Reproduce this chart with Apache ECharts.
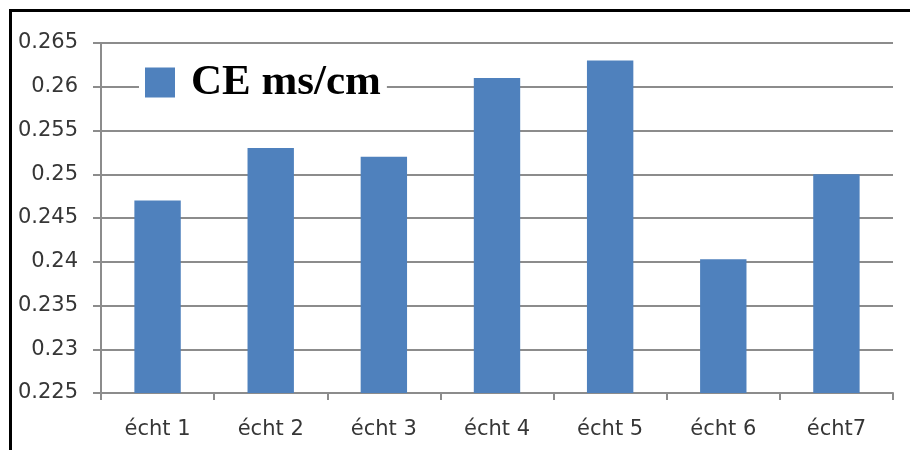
<!DOCTYPE html>
<html>
<head>
<meta charset="utf-8">
<script src="https://cdn.jsdelivr.net/npm/echarts@6/dist/echarts.min.js"></script>
<style>
  html, body { margin: 0; padding: 0; background: #fff; }
  #chart { width: 910px; height: 450px; }
</style>
</head>
<body>
<div id="chart"></div>
<script>
// Sample names along the x axis
const categories = ['écht 1', 'écht 2', 'écht 3', 'écht 4', 'écht 5', 'écht 6', 'écht7'];
// Electrical conductivity per sample (ms/cm)
const ceValues = [0.247, 0.253, 0.252, 0.261, 0.263, 0.2403, 0.250];
const seriesName = 'CE ms/cm';
// Value axis range and step
const yMin = 0.225;
const yMax = 0.265;
const yStep = 0.005;

const gridColor = '#8c8c8c';
const labelFont = '"DejaVu Sans", Verdana, sans-serif';

const chart = echarts.init(document.getElementById('chart'), null, { renderer: 'canvas' });

chart.setOption({
  animation: false,
  backgroundColor: '#ffffff',
  grid: { left: 101, right: 17, top: 43, bottom: 57, containLabel: false },
  legend: {
    data: [seriesName],
    left: 139,
    top: 58,
    padding: [3, 6, 3, 6],
    backgroundColor: '#ffffff',
    icon: 'rect',
    itemWidth: 30,
    itemHeight: 30,
    textStyle: {
      fontFamily: '"Liberation Serif", "Times New Roman", serif',
      fontWeight: 'bold',
      fontSize: 43,
      color: '#000000',
      padding: [0, 0, 0, 11]
    }
  },
  xAxis: {
    type: 'category',
    data: categories,
    axisLine: { lineStyle: { color: gridColor, width: 2 } },
    axisTick: { show: true, length: 7, lineStyle: { color: gridColor, width: 2 } },
    axisLabel: {
      margin: 26,
      fontFamily: labelFont,
      fontSize: 21,
      color: '#363636'
    }
  },
  yAxis: {
    type: 'value',
    min: yMin,
    max: yMax,
    interval: yStep,
    axisLine: { show: true, lineStyle: { color: gridColor, width: 2 } },
    axisTick: { show: true, length: 8, lineStyle: { color: gridColor, width: 2 } },
    splitLine: { show: true, lineStyle: { color: gridColor, width: 2 } },
    axisLabel: {
      margin: 23,
      fontFamily: labelFont,
      fontSize: 21,
      color: '#363636',
      formatter: function (v) { return String(parseFloat(v.toFixed(3))); }
    }
  },
  series: [{
    name: seriesName,
    type: 'bar',
    data: ceValues,
    barWidth: '41%',
    itemStyle: { color: '#4f81bd' }
  }],
  graphic: [
    // frame along the top and left edges
    { type: 'line', shape: { x1: 9, y1: 10.5, x2: 910, y2: 10.5 }, style: { stroke: '#000', lineWidth: 3 } },
    { type: 'line', shape: { x1: 10.5, y1: 9, x2: 10.5, y2: 450 }, style: { stroke: '#000', lineWidth: 3 } }
  ]
});
</script>
</body>
</html>
